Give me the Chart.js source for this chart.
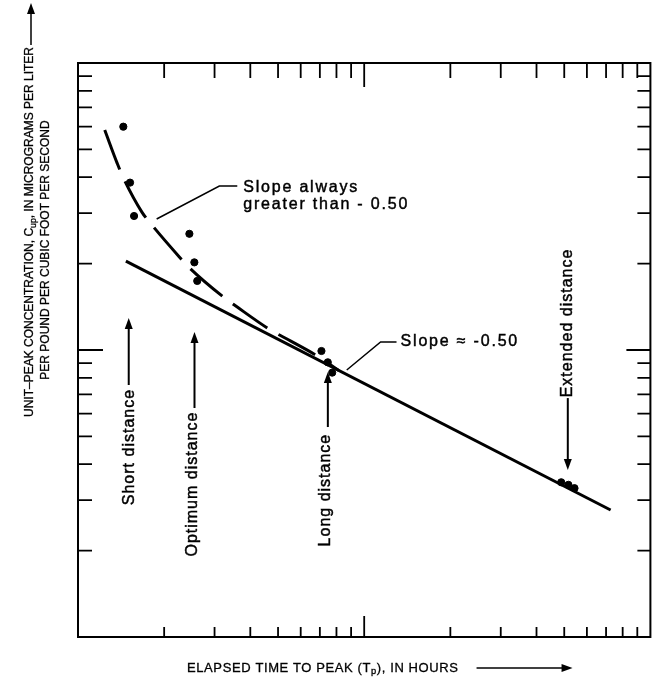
<!DOCTYPE html>
<html>
<head>
<meta charset="utf-8">
<script src="https://cdn.jsdelivr.net/npm/chart.js@4.4.0/dist/chart.umd.min.js"></script>
<style>
  html, body { margin: 0; padding: 0; background: #fff; }
  #chart { display: block; }
</style>
</head>
<body>
<canvas id="chart" width="655" height="684"></canvas>
<script>
// measured unit-peak concentrations against elapsed time to peak
const sampleTime = [1.44, 1.52, 1.57, 2.45, 2.55, 2.61, 7.09, 7.46, 7.73, 48.8, 51.7, 54.3];
const samplePeak = [60.0, 38.3, 29.3, 25.4, 20.2, 17.4, 9.92, 9.06, 8.34, 3.46, 3.39, 3.30];

// straight line, slope about -0.50
const fitTime = [1.47, 72.6];
const fitPeak = [20.4, 2.77];

// steeper curve through the near-source samples
const curveTime = [1.24, 1.37, 1.43, 1.67, 1.81, 2.26, 2.43, 3.22, 3.57, 4.73, 5.04, 6.95, 8.15];
const curvePeak = [58.4, 44.8, 40.4, 30.3, 27.3, 21.1, 19.5, 15.3, 14.2, 11.7, 11.3, 9.45, 8.49];

// log-cycle tick marks (no labels on this plot)
const tickValues = [2, 3, 4, 5, 6, 7, 8, 9, 10, 20, 30, 40, 50, 60, 70, 80, 90];

const FONT = '"Liberation Sans", Arial, Helvetica, sans-serif';

function pairs(xs, ys) {
    return xs.map((x, i) => ({ x: x, y: ys[i] }));
}

function arrow(ctx, x1, y1, x2, y2) {
    const a = Math.atan2(y2 - y1, x2 - x1);
    const len = 11, half = 4;
    ctx.beginPath();
    ctx.moveTo(x1, y1);
    ctx.lineTo(x2 - Math.cos(a) * len * 0.8, y2 - Math.sin(a) * len * 0.8);
    ctx.stroke();
    ctx.beginPath();
    ctx.moveTo(x2, y2);
    ctx.lineTo(x2 - Math.cos(a) * len - Math.sin(a) * half, y2 - Math.sin(a) * len + Math.cos(a) * half);
    ctx.lineTo(x2 - Math.cos(a) * len + Math.sin(a) * half, y2 - Math.sin(a) * len - Math.cos(a) * half);
    ctx.closePath();
    ctx.fill();
}

// slightly heavier text, closer to the printed lettering
function inkText(ctx, text, x, y, weight) {
    ctx.save();
    ctx.lineWidth = weight;
    ctx.fillText(text, x, y);
    ctx.strokeText(text, x, y);
    ctx.restore();
}

// text made of runs, some of them subscripts; drawn from the current origin
function richWidth(ctx, runs, size) {
    let w = 0;
    runs.forEach(r => {
        ctx.font = (r.sub ? size * 0.72 : size) + 'px ' + FONT;
        w += ctx.measureText(r.t).width;
    });
    return w;
}

function drawRich(ctx, runs, size, x, y) {
    let cx = x;
    runs.forEach(r => {
        ctx.font = (r.sub ? size * 0.72 : size) + 'px ' + FONT;
        inkText(ctx, r.t, cx, r.sub ? y + size * 0.3 : y, 0.3);
        cx += ctx.measureText(r.t).width;
    });
    return cx;
}

// labels pinned to data coordinates
const notes = [
    { text: 'Short distance', x: 1.516, y: 4.59, arrow: [1.504, 7.55, 1.504, 12.93] },
    { text: 'Optimum distance', x: 2.512, y: 3.41, arrow: [2.553, 6.28, 2.553, 11.55] },
    { text: 'Long distance', x: 7.346, y: 3.25, arrow: [7.464, 5.39, 7.464, 8.38] },
    { text: 'Extended distance', x: 51.45, y: 12.42, arrow: [51.45, 6.80, 51.45, 3.82] }
];

const framePlugin = {
    id: 'frame',
    afterDraw(chart) {
        const ctx = chart.ctx;
        const a = chart.chartArea;
        const xs = chart.scales.x, ys = chart.scales.y;
        const X = v => xs.getPixelForValue(v);
        const Y = v => ys.getPixelForValue(v);

        ctx.save();
        ctx.strokeStyle = '#000';
        ctx.fillStyle = '#000';
        ctx.lineCap = 'butt';

        // border
        ctx.lineWidth = 2;
        ctx.strokeRect(a.left, a.top, a.right - a.left, a.bottom - a.top);

        // inward ticks on all four sides
        ctx.lineWidth = 1.8;
        tickValues.forEach(v => {
            const major = Math.abs(Math.log10(v) - Math.round(Math.log10(v))) < 1e-9;
            const len = major ? 24 : 13;
            const px = X(v), py = Y(v);
            ctx.beginPath();
            ctx.moveTo(px, a.bottom); ctx.lineTo(px, a.bottom - (major ? 21 : 10));
            ctx.moveTo(px, a.top); ctx.lineTo(px, a.top + (major ? 24 : 15));
            ctx.moveTo(a.left, py); ctx.lineTo(a.left + len + 1, py);
            ctx.moveTo(a.right, py); ctx.lineTo(a.right - len, py);
            ctx.stroke();
        });

        // x axis title
        ctx.textBaseline = 'middle';
        ctx.textAlign = 'left';
        ctx.letterSpacing = '0.6px';
        const xRuns = [{ t: 'ELAPSED TIME TO PEAK (T' }, { t: 'p', sub: true }, { t: '), IN HOURS' }];
        const xEnd = drawRich(ctx, xRuns, 13, 187, 668);
        ctx.lineWidth = 1.5;
        arrow(ctx, xEnd + 18, 668, xEnd + 114, 668);

        // y axis title, two rotated lines
        ctx.letterSpacing = '0px';
        const yRuns1 = [{ t: 'UNIT\u2013PEAK CONCENTRATION, C' }, { t: 'up', sub: true }, { t: ', IN MICROGRAMS PER LITER' }];
        const yRuns2 = [{ t: 'PER POUND PER CUBIC FOOT PER SECOND' }];
        ctx.save();
        ctx.translate(30, 232);
        ctx.rotate(-Math.PI / 2);
        drawRich(ctx, yRuns1, 12, -richWidth(ctx, yRuns1, 12) / 2, 0);
        ctx.restore();
        ctx.save();
        ctx.translate(46, 250);
        ctx.rotate(-Math.PI / 2);
        drawRich(ctx, yRuns2, 12, -richWidth(ctx, yRuns2, 12) / 2, 0);
        ctx.restore();
        arrow(ctx, 31, 45, 31, 3);

        // distance labels with arrows
        ctx.font = '16px ' + FONT;
        ctx.letterSpacing = '1px';
        ctx.textAlign = 'center';
        notes.forEach(n => {
            ctx.save();
            ctx.translate(X(n.x), Y(n.y));
            ctx.rotate(-Math.PI / 2);
            inkText(ctx, n.text, 0, 0, 0.45);
            ctx.restore();
            ctx.lineWidth = 2;
            arrow(ctx, X(n.arrow[0]), Y(n.arrow[1]), X(n.arrow[2]), Y(n.arrow[3]));
        });

        // slope callouts
        ctx.lineWidth = 1.5;
        ctx.textAlign = 'left';
        ctx.letterSpacing = '1.8px';
        ctx.beginPath();
        ctx.moveTo(X(8.69), Y(8.52));
        ctx.lineTo(X(11.41), Y(10.66));
        ctx.lineTo(X(12.97), Y(10.66));
        ctx.stroke();
        inkText(ctx, 'Slope \u2248 -0.50', X(13.40), Y(10.66), 0.45);

        ctx.beginPath();
        ctx.moveTo(X(1.883), Y(28.60));
        ctx.lineTo(X(3.118), Y(37.27));
        ctx.lineTo(X(3.602), Y(37.27));
        ctx.stroke();
        inkText(ctx, 'Slope always', X(3.779), Y(36.68), 0.45);
        inkText(ctx, 'greater than - 0.50', X(3.779), Y(32.0), 0.45);

        ctx.restore();
    }
};

const ctx = document.getElementById('chart').getContext('2d');

new Chart(ctx, {
    type: 'scatter',
    data: {
        datasets: [{
            label: 'Samples',
            data: pairs(sampleTime, samplePeak),
            backgroundColor: '#000',
            borderColor: '#000',
            pointRadius: 3.6,
            pointHoverRadius: 3.6
        }, {
            label: 'Slope -0.50',
            data: pairs(fitTime, fitPeak),
            showLine: true,
            borderColor: '#000',
            borderWidth: 3,
            pointRadius: 0
        }, {
            label: 'Near-source curve',
            data: pairs(curveTime, curvePeak),
            showLine: true,
            borderColor: '#000',
            borderWidth: 3,
            borderDash: [42, 13],
            cubicInterpolationMode: 'monotone',
            pointRadius: 0
        }]
    },
    options: {
        responsive: false,
        animation: false,
        devicePixelRatio: 1,
        layout: {
            padding: { left: 78, top: 63, right: 2, bottom: 47 }
        },
        plugins: {
            legend: { display: false },
            tooltip: { enabled: false }
        },
        scales: {
            x: { type: 'logarithmic', min: 1, max: 100, display: false },
            y: { type: 'logarithmic', min: 1, max: 100, display: false }
        }
    },
    plugins: [framePlugin]
});
</script>
</body>
</html>
